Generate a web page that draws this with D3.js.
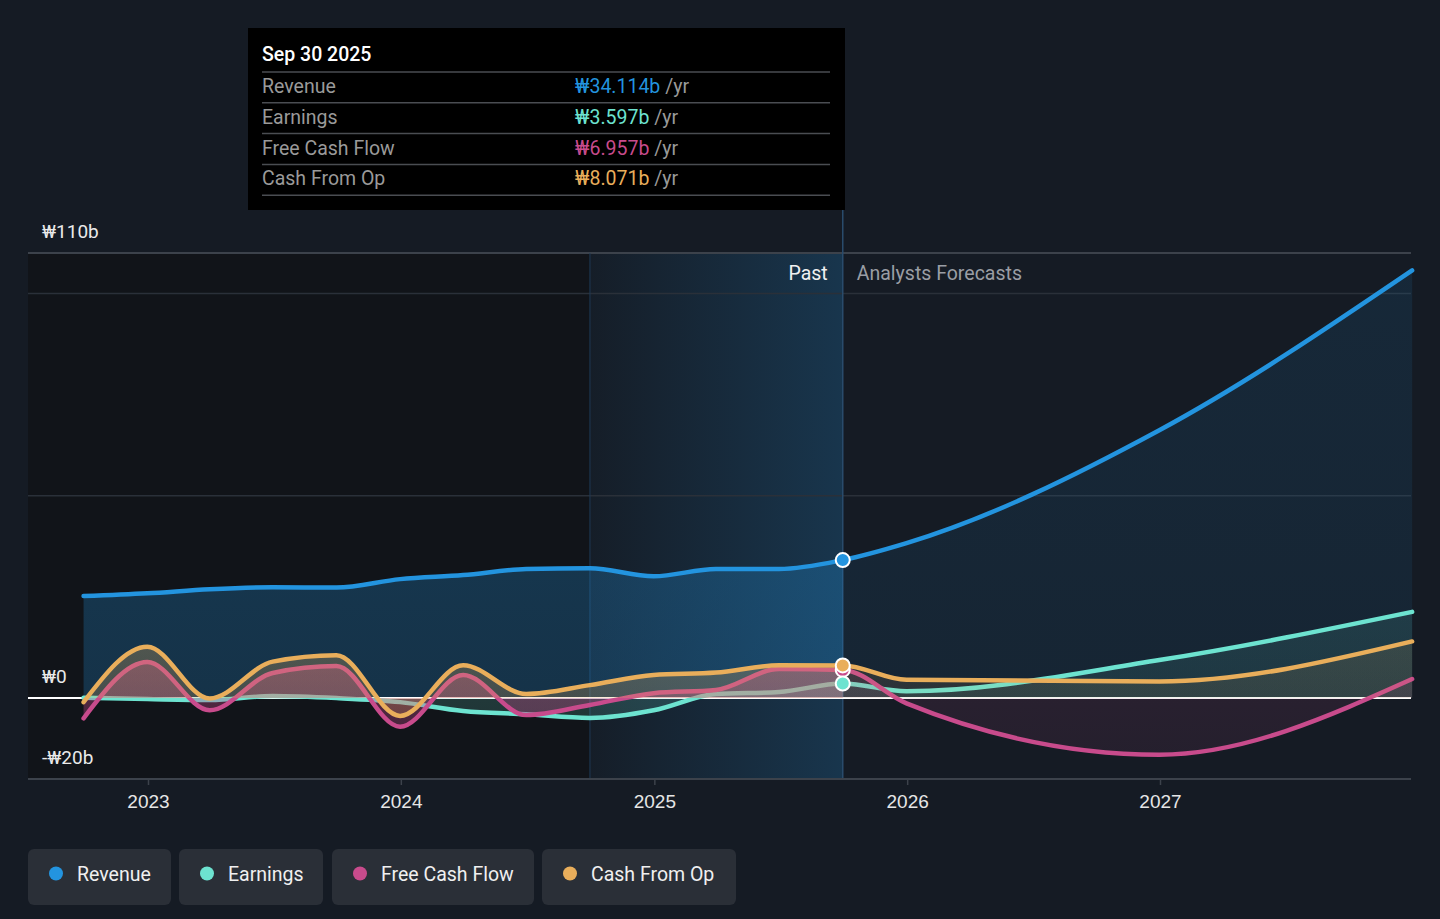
<!DOCTYPE html>
<html>
<head>
<meta charset="utf-8">
<script src="https://cdn.jsdelivr.net/npm/d3@7/dist/d3.min.js"></script>
<style>
  html, body { margin: 0; padding: 0; background: #151b24; }
  svg { display: block; font-family: Roboto, "Noto Sans", sans-serif; }
</style>
</head>
<body>
<svg id="chart" width="1440" height="919"></svg>
<script>
// ---------- DATA ----------
const pastDates = ["2022-09-30","2022-12-31","2023-03-31","2023-06-30","2023-09-30","2023-12-31",
                   "2024-03-31","2024-06-30","2024-09-30","2024-12-31","2025-03-31","2025-06-30","2025-09-30"];
const revenuePast  = [25.2, 25.9, 26.9, 27.4, 27.3, 29.4, 30.4, 31.9, 32.1, 30.1, 31.9, 31.9, 34.114];
const earningsPast = [0.1, -0.25, -0.5, 0.5, 0.0, -1.0, -3.2, -4.0, -4.9, -3.0, 1.0, 1.5, 3.597];
const fcfPast      = [-5.0, 8.9, -3.0, 6.2, 7.9, -7.1, 5.7, -4.2, -1.7, 1.2, 2.0, 7.2, 6.957];
const cfoPast      = [-1.0, 12.7, -0.1, 9.0, 10.6, -4.4, 8.1, 1.0, 3.2, 5.7, 6.3, 8.1, 8.071];

const forecastDates    = ["2025-12-31","2026-12-31","2027-12-31"];
const revenueForecast  = [38.3, 66.2, 105.7];
const earningsForecast = [1.7, 9.4, 21.3];
const fcfForecast      = [-1.3, -14.0, 4.7];
const cfoForecast      = [4.5, 4.1, 14.0];

const seriesNames  = ["Revenue", "Earnings", "Free Cash Flow", "Cash From Op"];
const seriesColors = ["#2394df", "#6de3d0", "#c84b8c", "#e9ae5b"];
const tooltipValues = ["₩34.114b", "₩3.597b", "₩6.957b", "₩8.071b"];
const tooltipDate = "Sep 30 2025";

const yTickValues = [110, 0, -20];
const yTickLabels = ["₩110b", "₩0", "-₩20b"];
const yGridValues = [110, 100, 50];
const xTickYears  = [2023, 2024, 2025, 2026, 2027];

// ---------- SETUP ----------
const svg = d3.select("#chart");
const parse = d3.utcParse("%Y-%m-%d");
const x = d3.scaleUtc()
  .domain([Date.UTC(2023,0,1), Date.UTC(2027,0,1)])
  .range([148, 1160]);
const y = d3.scaleLinear().domain([-20, 110]).range([779, 253]);

const left = 28, right = 1411;
const nowDate = parse("2025-09-30");
const highlightStart = parse("2024-09-30");
const xNow = x(nowDate), xHl = x(highlightStart);

const defs = svg.append("defs");

// highlight gradient
const hg = defs.append("linearGradient").attr("id","hlGrad").attr("x1","0").attr("x2","1").attr("y1","0").attr("y2","0");
hg.append("stop").attr("offset","0").attr("stop-color","#2394df").attr("stop-opacity",0.02);
hg.append("stop").attr("offset","1").attr("stop-color","#2394df").attr("stop-opacity",0.22);

// clip paths for past/forecast
defs.append("clipPath").attr("id","clipPast").append("rect")
  .attr("x", 0).attr("y", 0).attr("width", xNow).attr("height", 919);
defs.append("clipPath").attr("id","clipFut").append("rect")
  .attr("x", xNow).attr("y", 0).attr("width", 1440 - xNow).attr("height", 919);

// ---------- BACKGROUND REGIONS ----------
svg.append("rect").attr("x", left).attr("y", y(110)).attr("width", xHl - left)
  .attr("height", y(-20) - y(110)).attr("fill", "#111419");
svg.append("rect").attr("x", xHl).attr("y", y(110)).attr("width", xNow - xHl)
  .attr("height", y(-20) - y(110)).attr("fill", "url(#hlGrad)");

// gridlines
svg.append("g").selectAll("line").data(yGridValues).join("line")
  .attr("x1", left).attr("x2", right)
  .attr("y1", d => y(d)).attr("y2", d => y(d))
  .attr("stroke", d => d === 110 ? "#3c424b" : "#2a3039")
  .attr("stroke-width", d => d === 110 ? 2 : 1.5);

// vertical separators
svg.append("line").attr("x1", xHl).attr("x2", xHl).attr("y1", y(110)).attr("y2", y(-20))
  .attr("stroke", "#1f3a55").attr("stroke-width", 1);
svg.append("line").attr("x1", xNow).attr("x2", xNow).attr("y1", 210).attr("y2", y(-20))
  .attr("stroke", "#2a4c6c").attr("stroke-width", 1.5);

// x axis
const xAxis = d3.axisBottom(x)
  .tickValues(xTickYears.map(yr => new Date(Date.UTC(yr,0,1))))
  .tickFormat(d3.utcFormat("%Y")).tickSize(6).tickPadding(10);
const gx = svg.append("g").attr("transform", `translate(0,${y(-20)})`).call(xAxis);
gx.select(".domain").remove();
gx.selectAll(".tick line").attr("stroke", "#3c424b").attr("stroke-width", 1.5);
gx.selectAll(".tick text").attr("fill", "#e6e6e6").attr("font-size", 19);
svg.append("line").attr("x1", left).attr("x2", right).attr("y1", y(-20)).attr("y2", y(-20))
  .attr("stroke", "#3c424b").attr("stroke-width", 2);

// y labels
svg.append("g").selectAll("text").data(yTickValues).join("text")
  .attr("x", 42).attr("y", d => y(d) - 15)
  .attr("fill", "#eaeaea").attr("font-size", 19)
  .text((d,i) => yTickLabels[i]);

// Past / forecasts labels
svg.append("text").attr("x", xNow - 15).attr("y", 280).attr("text-anchor","end")
  .attr("fill", "#f0f0f0").attr("font-size", 19.5).text("Past");
svg.append("text").attr("x", xNow + 14).attr("y", 280)
  .attr("fill", "#9a9ea4").attr("font-size", 19.5).text("Analysts Forecasts");

// ---------- SERIES ----------
function buildSeries(past, fut) {
  const pts = pastDates.map((d,i) => ({date: parse(d), v: past[i]}));
  forecastDates.forEach((d,i) => pts.push({date: parse(d), v: fut[i]}));
  return pts;
}
const allSeries = [
  buildSeries(revenuePast, revenueForecast),
  buildSeries(earningsPast, earningsForecast),
  buildSeries(fcfPast, fcfForecast),
  buildSeries(cfoPast, cfoForecast)
];

const line = d3.line().x(d => x(d.date)).y(d => y(d.v)).curve(d3.curveMonotoneX);
const area = d3.area().x(d => x(d.date)).y0(y(0)).y1(d => y(d.v)).curve(d3.curveMonotoneX);

const pastOpac = [0.32, 0.22, 0.38, 0.28];
const futOpac  = [0.11, 0.12, 0.12, 0.12];

allSeries.forEach((s, i) => {
  const g = svg.append("g");
  const gradId = "ag" + i;
  const maxV = d3.max(s, d => d.v), minV = d3.min(s, d => d.v);
  const grad = defs.append("linearGradient").attr("id", gradId)
    .attr("gradientUnits","userSpaceOnUse").attr("x1",0).attr("x2",0)
    .attr("y1", y(Math.max(maxV, 0))).attr("y2", y(Math.min(minV, 0)));
  grad.append("stop").attr("offset", 0).attr("stop-color", seriesColors[i]).attr("stop-opacity", 1);
  grad.append("stop").attr("offset", 1).attr("stop-color", seriesColors[i]).attr("stop-opacity", 0.75);

  g.append("path").datum(s).attr("d", area).attr("fill", `url(#${gradId})`)
    .attr("opacity", pastOpac[i]).attr("clip-path", "url(#clipPast)");
  g.append("path").datum(s).attr("d", area).attr("fill", `url(#${gradId})`)
    .attr("opacity", futOpac[i]).attr("clip-path", "url(#clipFut)");

  if (i === 0) {
    svg.append("line").attr("x1", left).attr("x2", right).attr("y1", y(0)).attr("y2", y(0))
      .attr("stroke", "#ffffff").attr("stroke-width", 2);
  }
  svg.append("path").datum(s).attr("d", line).attr("fill", "none")
    .attr("stroke", seriesColors[i]).attr("stroke-width", 4.5).attr("stroke-linecap","round");
});

// markers at current date
const markerOrder = [0, 2, 1, 3];
markerOrder.forEach(i => {
  const p = allSeries[i].find(d => +d.date === +nowDate);
  svg.append("circle").attr("cx", x(p.date)).attr("cy", y(p.v)).attr("r", 7)
    .attr("fill", seriesColors[i]).attr("stroke", "#ffffff").attr("stroke-width", 2);
});

// ---------- TOOLTIP ----------
const tt = svg.append("g");
tt.append("rect").attr("x", 248).attr("y", 28).attr("width", 597).attr("height", 182).attr("fill", "#000000");
tt.append("text").attr("x", 262).attr("y", 61).attr("fill", "#ffffff").attr("font-size", 19.5)
  .attr("font-weight", 500).text(tooltipDate);
const rowTop = 72, rowH = 30.8;
for (let k = 0; k <= 4; k++) {
  tt.append("line").attr("x1", 262).attr("x2", 830)
    .attr("y1", rowTop + k * rowH).attr("y2", rowTop + k * rowH)
    .attr("stroke", "#4a4d52").attr("stroke-width", 1.5);
}
seriesNames.forEach((n, i) => {
  const yy = rowTop + i * rowH + 21;
  tt.append("text").attr("x", 262).attr("y", yy).attr("fill", "#9a9a9a").attr("font-size", 19.5).text(n);
  const t = tt.append("text").attr("x", 575).attr("y", yy).attr("font-size", 19.5);
  t.append("tspan").attr("fill", seriesColors[i]).text(tooltipValues[i]);
  t.append("tspan").attr("fill", "#9a9a9a").text(" /yr");
});

// ---------- LEGEND ----------
const legendX = [28, 179, 332, 542];
const legendW = [143, 144, 202, 194];
const lg = svg.append("g");
seriesNames.forEach((n, i) => {
  const g = lg.append("g").attr("transform", `translate(${legendX[i]},849)`);
  g.append("rect").attr("width", legendW[i]).attr("height", 56).attr("rx", 6).attr("fill", "#2a2f37");
  g.append("circle").attr("cx", 28).attr("cy", 24.5).attr("r", 7).attr("fill", seriesColors[i]);
  g.append("text").attr("x", 49).attr("y", 31.5).attr("fill", "#f0f0f0").attr("font-size", 19.5).text(n);
});
</script>
</body>
</html>
